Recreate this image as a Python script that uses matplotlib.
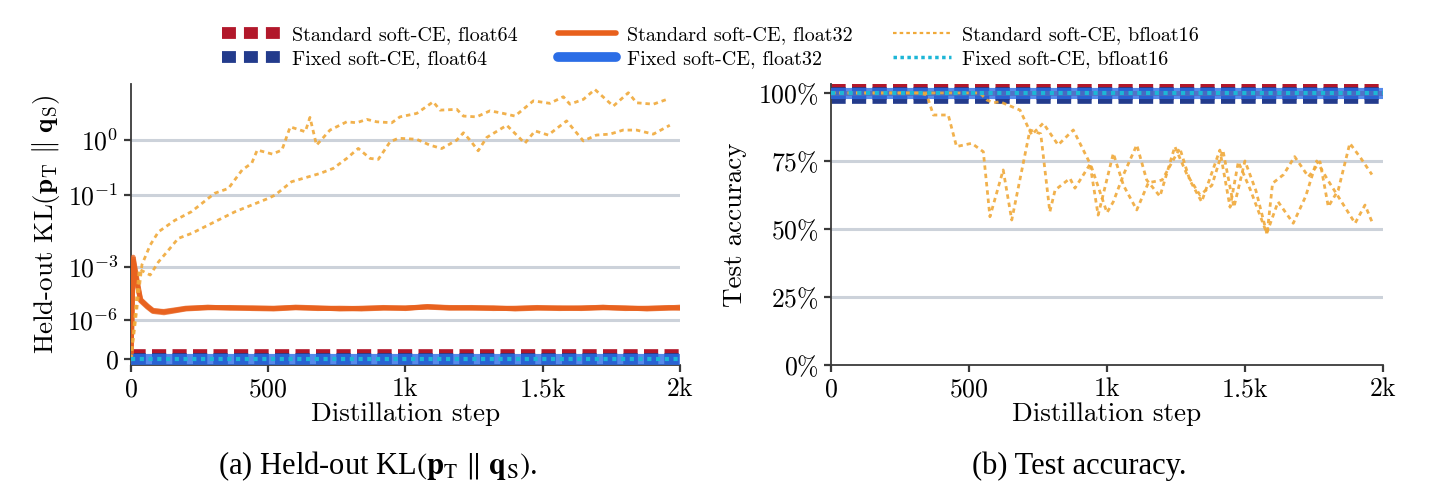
import numpy as np
import matplotlib.pyplot as plt
import matplotlib.patheffects as pe
from matplotlib.lines import Line2D
from matplotlib.ticker import NullLocator

plt.rcParams.update({
    'font.family': 'serif',
    'font.serif': ['cmr10'],
    'mathtext.fontset': 'cm',
    'axes.unicode_minus': False,
    'axes.formatter.use_mathtext': True,
})

# ---------------- data ----------------
flat_steps = [0, 2000]
kl_zero = [0.0, 0.0]
acc_full = [1.0, 1.0]

# standard soft-CE, float32 (three seeds), held-out KL
std32_steps = [0, 8, 20, 35, 60, 80, 120, 160, 200, 280, 360, 440, 520, 600, 680, 760,
               840, 920, 1000, 1080, 1160, 1240, 1320, 1400, 1480, 1560, 1640, 1720,
               1800, 1880, 1960, 2000]
std32_kl_s1 = [0, 2.2e-3, 4e-4, 3e-5, 1.2e-5, 6e-6, 4.6e-6, 6e-6, 8e-6, 1.0e-5, 8.5e-6, 9e-6,
               8e-6, 1.0e-5, 9e-6, 7.5e-6, 8.5e-6, 9e-6, 8.5e-6, 1.1e-5, 9e-6, 9.5e-6, 8.5e-6,
               8e-6, 9e-6, 8.5e-6, 9e-6, 9.5e-6, 8.5e-6, 8e-6, 9.5e-6, 9e-6]
std32_kl_s2 = [0, 1.6e-3, 2.5e-4, 2.5e-5, 1.0e-5, 5e-6, 4e-6, 5.5e-6, 7.5e-6, 9e-6, 9.5e-6, 8e-6,
               7.5e-6, 9e-6, 8.5e-6, 8e-6, 7.5e-6, 8.5e-6, 9e-6, 1.0e-5, 8.5e-6, 8.5e-6, 9e-6,
               7.5e-6, 8.5e-6, 9e-6, 8e-6, 9e-6, 9e-6, 7.5e-6, 8.5e-6, 8.5e-6]
std32_kl_s3 = [0, 1.9e-3, 3e-4, 2.8e-5, 1.1e-5, 5.5e-6, 5e-6, 6.5e-6, 8.5e-6, 9.5e-6, 9e-6, 8.5e-6,
               8.5e-6, 9.5e-6, 8e-6, 8.5e-6, 8e-6, 9.5e-6, 8e-6, 1.05e-5, 9.5e-6, 9e-6, 8e-6,
               8.5e-6, 9.5e-6, 8e-6, 8.5e-6, 1.0e-5, 8e-6, 8.5e-6, 9e-6, 1.0e-5]

# standard soft-CE, bfloat16 (two seeds), held-out KL
bf_kl_a_steps = [0, 40, 70, 100, 160, 220, 305, 355, 405, 440, 460, 515, 550, 580, 635, 652,
                 676, 725, 786, 822, 859, 895, 950, 980, 1041, 1101, 1126, 1187, 1211, 1259,
                 1308, 1356, 1399, 1466, 1526, 1575, 1599, 1648, 1690, 1757, 1812, 1842, 1903,
                 1952]
bf_kl_a = [0, 1.2e-3, 5.4e-3, 0.013, 0.026, 0.042, 0.108, 0.136, 0.31, 0.41, 0.69, 0.59, 0.69,
           1.6, 1.35, 2.2, 0.83, 1.43, 1.9, 1.84, 2.06, 1.9, 1.84, 2.24, 2.51, 3.63, 2.79, 2.86,
           2.3, 2.24, 2.73, 2.51, 2.3, 3.74, 3.46, 4.24, 3.37, 3.91, 5.28, 3.17, 4.79, 3.52,
           3.37, 3.91]
bf_kl_b_steps = [0, 30, 70, 100, 136, 172, 221, 294, 379, 440, 500, 525, 585, 646, 689, 737,
                 786, 828, 871, 901, 944, 974, 1041, 1089, 1132, 1187, 1211, 1235, 1265, 1296,
                 1369, 1435, 1472, 1520, 1587, 1648, 1696, 1745, 1793, 1842, 1903, 1963]
bf_kl_b = [0, 8e-4, 4.7e-4, 1.5e-3, 3.7e-3, 8.5e-3, 0.0118, 0.0218, 0.042, 0.060, 0.084, 0.099,
           0.185, 0.23, 0.267, 0.331, 0.497, 0.734, 0.497, 0.479, 0.94, 1.07, 1.03, 0.83, 0.73,
           1.0, 1.3, 1.0, 0.67, 1.1, 1.69, 0.89, 1.39, 1.2, 1.96, 0.97, 1.2, 1.24, 1.43, 1.43,
           1.24, 1.69]

# standard soft-CE, bfloat16 (two seeds), test accuracy
bf_acc_a_steps = [0, 320, 347, 371, 425, 455, 510, 552, 576, 624, 655, 721, 760, 793, 812, 866,
                  884, 940, 1000, 1023, 1060, 1108, 1144, 1192, 1246, 1290, 1337, 1380, 1420,
                  1460, 1500, 1540, 1580, 1600, 1640, 1680, 1730, 1772, 1802, 1838, 1880, 1920,
                  1960]
bf_acc_a = [1.0, 1.0, 0.993, 0.919, 0.919, 0.803, 0.815, 0.784, 0.545, 0.717, 0.533, 0.864, 0.85,
            0.563, 0.643, 0.686, 0.65, 0.74, 0.56, 0.60, 0.70, 0.809, 0.68, 0.62, 0.803, 0.70,
            0.625, 0.66, 0.79, 0.58, 0.75, 0.64, 0.48, 0.668, 0.70, 0.766, 0.692, 0.747, 0.582,
            0.643, 0.815, 0.76, 0.70]
bf_acc_b_steps = [0, 540, 565, 589, 612, 685, 727, 769, 823, 878, 938, 968, 1023, 1060, 1108,
                  1150, 1200, 1264, 1300, 1343, 1409, 1446, 1476, 1520, 1579, 1620, 1675, 1720,
                  1760, 1800, 1850, 1899, 1935, 1960]
bf_acc_b = [1.0, 1.0, 0.974, 0.964, 0.968, 0.937, 0.846, 0.889, 0.809, 0.864, 0.742, 0.551, 0.778,
            0.66, 0.57, 0.67, 0.68, 0.797, 0.68, 0.60, 0.79, 0.58, 0.747, 0.643, 0.484, 0.60,
            0.521, 0.62, 0.75, 0.68, 0.60, 0.521, 0.588, 0.527]

x_ticks = [0, 500, 1000, 1500, 2000]
x_ticklabels = ['$0$', '$500$', r'$1\mathrm{k}$', r'$1.5\mathrm{k}$', r'$2\mathrm{k}$']
kl_ticks = [0, 1e-6, 1e-3, 1e-1, 1]
kl_ticklabels = ['$0$', '$10^{-6}$', '$10^{-3}$', '$10^{-1}$', '$10^{0}$']
acc_ticks = [0, 0.25, 0.5, 0.75, 1.0]
acc_ticklabels = [r'$0\%$', r'$25\%$', r'$50\%$', r'$75\%$', r'$100\%$']

# ---------------- style ----------------
RED = '#b2182b'
NAVY = '#233b8c'
ORANGE = '#e8601c'
BLUE = '#2b6de6'
YELLOW = '#f0a93a'
CYAN = '#1db6d6'
GRID = '#ccd2da'
SPINE = '#3a3a3a'


def fwd(x):
    x = np.asarray(x, dtype=float)
    return np.sign(x) * np.abs(x) ** 0.125


def inv(y):
    y = np.asarray(y, dtype=float)
    return np.sign(y) * np.abs(y) ** 8


fig = plt.figure(figsize=(14.3, 5.03), dpi=100)
ax1 = fig.add_axes([0.0916, 0.2744, 0.3839, 0.5586])
ax2 = fig.add_axes([0.5811, 0.2744, 0.386, 0.5586])


def draw(ax, y64s, y64f, y32s_list, y32f, bf_list, ybff):
    ax.plot(flat_steps, y64s, color=RED, lw=12, dashes=(0.85, 0.38),
            dash_capstyle='butt', zorder=2, path_effects=[pe.Stroke(offset=(0, 1.6))])
    ax.plot(flat_steps, y64f, color=NAVY, lw=12, dashes=(0.85, 0.38),
            dash_capstyle='butt', zorder=2, path_effects=[pe.Stroke(offset=(0, -1.6))])
    for xs, ys in y32s_list:
        ax.plot(xs, ys, color=ORANGE, lw=3.6, alpha=0.75, zorder=3, solid_capstyle='round')
    ax.plot(flat_steps, y32f, color=BLUE, lw=8, alpha=0.8, zorder=3, solid_capstyle='round')
    for xs, ys in bf_list:
        ax.plot(xs, ys, color=YELLOW, lw=2, dashes=(1.6, 1.4), alpha=0.9, zorder=4)
    ax.plot(flat_steps, ybff, color=CYAN, lw=3, dashes=(1.0, 1.1), zorder=5)


draw(ax1, kl_zero, kl_zero,
     [(std32_steps, std32_kl_s1), (std32_steps, std32_kl_s2), (std32_steps, std32_kl_s3)],
     kl_zero,
     [(bf_kl_a_steps, bf_kl_a), (bf_kl_b_steps, bf_kl_b)],
     kl_zero)
draw(ax2, acc_full, acc_full,
     [(flat_steps, acc_full)],
     acc_full,
     [(bf_acc_a_steps, bf_acc_a), (bf_acc_b_steps, bf_acc_b)],
     acc_full)

ax1.set_yscale('function', functions=(fwd, inv))
ax1.set_ylim(-(0.027 ** 8), 6.2)
ax1.set_yticks(kl_ticks)
ax1.set_yticklabels(kl_ticklabels)
ax1.yaxis.set_minor_locator(NullLocator())
for v in kl_ticks[1:]:
    ax1.axhline(v, color=GRID, lw=2.2, zorder=0)

ax2.set_ylim(0, 1.033)
ax2.set_yticks(acc_ticks)
ax2.set_yticklabels(acc_ticklabels)
for v in acc_ticks[1:-1]:
    ax2.axhline(v, color=GRID, lw=2.2, zorder=0)

for ax in (ax1, ax2):
    ax.set_xlim(0, 2000)
    ax.set_xticks(x_ticks)
    ax.set_xticklabels(x_ticklabels)
    ax.spines['top'].set_visible(False)
    ax.spines['right'].set_visible(False)
    for s in ('left', 'bottom'):
        ax.spines[s].set_color(SPINE)
        ax.spines[s].set_linewidth(1.3)
    ax.tick_params(direction='out', length=5, width=1.6, color=SPINE, labelsize=18.5, pad=4)
    ax.set_xlabel('Distillation step', fontsize=19.5, labelpad=1)

ax1.set_ylabel(r'Held-out KL$(\mathbf{p}_{\mathrm{T}}\ \Vert\ \mathbf{q}_{\mathrm{S}})$',
               fontsize=19.5, labelpad=4)
ax2.set_ylabel('Test accuracy', fontsize=19.5, labelpad=8)

# legend
handles = [
    Line2D([0], [0], color=RED, lw=8.5, dashes=(1.18, 0.68), dash_capstyle='butt'),
    Line2D([0], [0], color=NAVY, lw=8.5, dashes=(1.18, 0.68), dash_capstyle='butt'),
    Line2D([0], [0], color=ORANGE, lw=4, solid_capstyle='round'),
    Line2D([0], [0], color=BLUE, lw=7, solid_capstyle='round'),
    Line2D([0], [0], color=YELLOW, lw=1.6, dashes=(1.6, 1.4)),
    Line2D([0], [0], color=CYAN, lw=2.5, dashes=(1.0, 1.0)),
]
labels = ['Standard soft-CE, float64', 'Fixed soft-CE, float64',
          'Standard soft-CE, float32', 'Fixed soft-CE, float32',
          'Standard soft-CE, bfloat16', 'Fixed soft-CE, bfloat16']
fig.legend(handles, labels, loc='center', bbox_to_anchor=(0.497, 0.906), ncol=3,
           frameon=False, fontsize=14.5, handlelength=2.9, handletextpad=0.55,
           columnspacing=2.0, labelspacing=0.3)

# captions
fig.text(0.264, 0.0736,
         r'(a) Held-out KL$(\mathbf{p}_{\mathrm{T}}\ \Vert\ \mathbf{q}_{\mathrm{S}})$.',
         family='Liberation Serif', math_fontfamily='stix', fontsize=22,
         ha='center', va='center')
fig.text(0.755, 0.0736, '(b) Test accuracy.', family='Liberation Serif', fontsize=22,
         ha='center', va='center')

fig.savefig('out.png', dpi=100)
